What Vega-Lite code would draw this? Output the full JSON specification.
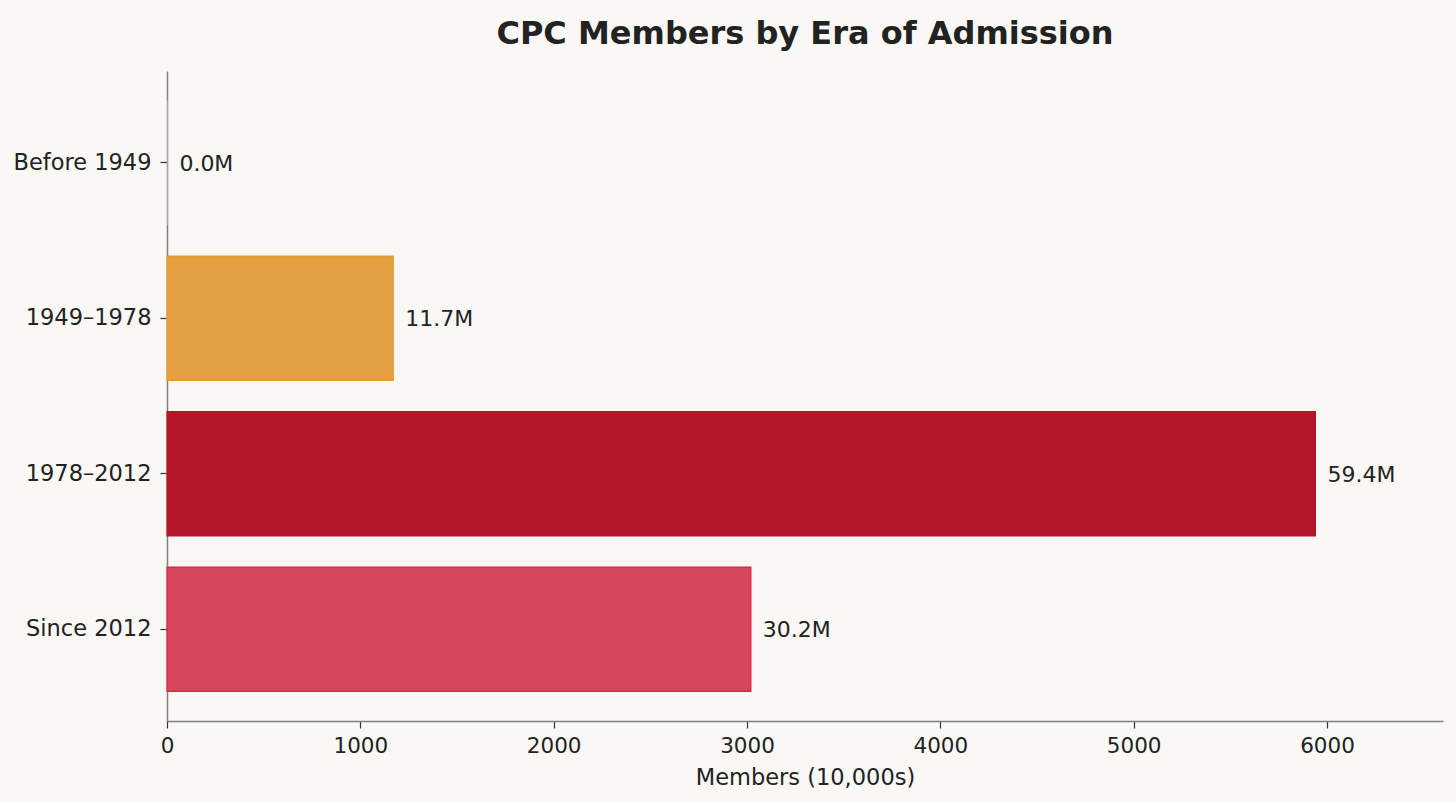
{
  "$schema": "https://vega.github.io/schema/vega-lite/v6.json",
  "autosize": "none",
  "width": 1276,
  "height": 650,
  "padding": {"left": 167, "top": 71, "right": 13, "bottom": 81},
  "background": "#f9f8f4",
  "title": {
    "text": "CPC Members by Era of Admission",
    "font": "DejaVu Sans",
    "fontSize": 32,
    "fontWeight": "bold",
    "color": "#222222",
    "anchor": "middle",
    "offset": 20
  },
  "config": {
    "view": {"stroke": null},
    "axis": {
      "labelFont": "DejaVu Sans",
      "titleFont": "DejaVu Sans",
      "labelColor": "#222222",
      "titleColor": "#222222",
      "domainColor": "#808080",
      "tickColor": "#333333",
      "domainWidth": 1.5,
      "tickWidth": 1.2,
      "tickSize": 7,
      "grid": false
    }
  },
  "data": {
    "values": [
      {"era": "Before 1949", "members": 2, "label": "0.0M"},
      {"era": "1949–1978", "members": 1170, "label": "11.7M"},
      {"era": "1978–2012", "members": 5940, "label": "59.4M"},
      {"era": "Since 2012", "members": 3020, "label": "30.2M"}
    ]
  },
  "encoding": {
    "y": {
      "field": "era",
      "type": "nominal",
      "sort": ["Before 1949", "1949–1978", "1978–2012", "Since 2012"],
      "scale": {"paddingInner": 0.2, "paddingOuter": 0.19},
      "axis": {"title": null, "labelFontSize": 22.5, "labelPadding": 9}
    },
    "x": {
      "field": "members",
      "type": "quantitative",
      "scale": {"domain": [0, 6600], "nice": false},
      "axis": {
        "title": "Members (10,000s)",
        "values": [0, 1000, 2000, 3000, 4000, 5000, 6000],
        "format": "d",
        "labelFlush": false,
        "labelFontSize": 21.5,
        "titleFontSize": 22.5,
        "titleFontWeight": "normal",
        "labelPadding": 7,
        "titlePadding": 10
      }
    }
  },
  "layer": [
    {
      "mark": {"type": "bar", "strokeWidth": 1.2},
      "encoding": {
        "color": {
          "field": "era",
          "type": "nominal",
          "scale": {
            "domain": ["Before 1949", "1949–1978", "1978–2012", "Since 2012"],
            "range": ["#f3e8e0", "#e2a042", "#b2172c", "#d8465e"]
          },
          "legend": null
        },
        "stroke": {
          "field": "era",
          "type": "nominal",
          "scale": {
            "domain": ["Before 1949", "1949–1978", "1978–2012", "Since 2012"],
            "range": ["transparent", "#e89a25", "#c0101f", "#e0223f"]
          },
          "legend": null
        }
      }
    },
    {
      "mark": {
        "type": "text",
        "align": "left",
        "baseline": "middle",
        "dx": 12,
        "dy": 1,
        "font": "DejaVu Sans",
        "fontSize": 22,
        "color": "#222222"
      },
      "encoding": {"text": {"field": "label"}}
    }
  ]
}
